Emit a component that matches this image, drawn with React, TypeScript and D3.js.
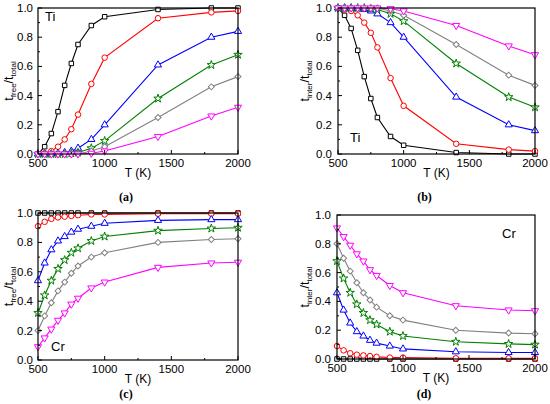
import React from "react";
import * as d3 from "d3";

const temps = [500, 550, 600, 650, 700, 750, 800, 900, 1000, 1400, 1800, 2000];

const seriesNames = ["s1", "s2", "s3", "s4", "s5", "s6"];
const colors = ["#000000", "#ff0000", "#0000ff", "#008000", "#808080", "#ff00ff"];
const markers = ["square", "circle", "triangle", "star", "diamond", "triangleDown"];

const tiFree = [
  [0.0, 0.05, 0.14, 0.29, 0.47, 0.62, 0.75, 0.88, 0.94, 0.99, 1.0, 1.0],
  [0.0, 0.005, 0.02, 0.05, 0.1, 0.17, 0.27, 0.48, 0.66, 0.93, 0.97, 0.98],
  [0.0, 0.0, 0.0, 0.005, 0.01, 0.02, 0.04, 0.1, 0.2, 0.61, 0.8, 0.84],
  [0.0, 0.0, 0.0, 0.0, 0.0, 0.005, 0.01, 0.04, 0.09, 0.38, 0.61, 0.68],
  [0.0, 0.0, 0.0, 0.0, 0.0, 0.0, 0.0, 0.02, 0.05, 0.25, 0.46, 0.53],
  [0.0, 0.0, 0.0, 0.0, 0.0, 0.0, 0.0, 0.005, 0.02, 0.12, 0.26, 0.32],
];

const tiInter = [
  [1.0, 0.95, 0.86, 0.71, 0.53, 0.38, 0.25, 0.12, 0.06, 0.01, 0.0, 0.0],
  [1.0, 0.99, 0.98, 0.95, 0.9, 0.83, 0.73, 0.52, 0.33, 0.07, 0.03, 0.02],
  [1.0, 1.0, 1.0, 0.995, 0.99, 0.98, 0.96, 0.9, 0.8, 0.39, 0.2, 0.16],
  [1.0, 1.0, 1.0, 1.0, 1.0, 0.995, 0.99, 0.96, 0.91, 0.62, 0.39, 0.32],
  [1.0, 1.0, 1.0, 1.0, 1.0, 1.0, 1.0, 0.98, 0.95, 0.75, 0.54, 0.47],
  [1.0, 1.0, 1.0, 1.0, 1.0, 1.0, 1.0, 0.995, 0.98, 0.88, 0.74, 0.68],
];

const crFree = [
  [1.0, 1.0, 1.0, 1.0, 1.0, 1.0, 1.0, 1.0, 1.0, 1.0, 1.0, 1.0],
  [0.91, 0.94, 0.96, 0.97, 0.975, 0.98, 0.985, 0.99, 0.99, 0.995, 0.995, 0.995],
  [0.54, 0.66, 0.75, 0.81, 0.84, 0.87, 0.89, 0.91, 0.93, 0.95, 0.955, 0.955],
  [0.32, 0.44, 0.54, 0.62, 0.68, 0.73, 0.76, 0.81, 0.84, 0.88, 0.895, 0.9],
  [0.2, 0.3, 0.39, 0.47, 0.53, 0.59, 0.64, 0.7, 0.73, 0.8, 0.82, 0.825],
  [0.09, 0.15, 0.21, 0.27, 0.32, 0.38, 0.42, 0.49, 0.53, 0.63, 0.66, 0.665],
];

const crInter = [
  [0.0, 0.0, 0.0, 0.0, 0.0, 0.0, 0.0, 0.0, 0.0, 0.0, 0.0, 0.0],
  [0.09, 0.06, 0.04, 0.03, 0.025, 0.02, 0.015, 0.01, 0.01, 0.005, 0.005, 0.005],
  [0.46, 0.34, 0.25, 0.19, 0.16, 0.13, 0.11, 0.09, 0.07, 0.05, 0.045, 0.045],
  [0.68, 0.56, 0.46, 0.38, 0.32, 0.27, 0.24, 0.19, 0.16, 0.12, 0.105, 0.1],
  [0.8, 0.7, 0.61, 0.53, 0.46, 0.41, 0.36, 0.3, 0.27, 0.2, 0.18, 0.175],
  [0.91, 0.85, 0.79, 0.73, 0.68, 0.62, 0.58, 0.51, 0.46, 0.37, 0.34, 0.335],
];

const xTicks = [500, 1000, 1500, 2000];
const xMinor = [750, 1250, 1750];
const yTicks = [0, 0.2, 0.4, 0.6, 0.8, 1.0];
const yMinor = [0.1, 0.3, 0.5, 0.7, 0.9];

type Panel = {
  data: number[][];
  sub: string;
  caption: string;
  elem: string;
  box: [number, number, number, number]; // left, top, right, bottom
  elemPos: [number, number];
  labelX: number;
  tickRight: number;
  captionY: number;
};

const panels: Panel[] = [
  { data: tiFree, sub: "free", caption: "(a)", elem: "Ti", box: [38, 8, 238, 154], elemPos: [45, 21], labelX: 13, tickRight: 33, captionY: 201 },
  { data: tiInter, sub: "inter", caption: "(b)", elem: "Ti", box: [338, 8, 535, 154], elemPos: [350, 142], labelX: 309, tickRight: 332, captionY: 201 },
  { data: crFree, sub: "free", caption: "(c)", elem: "Cr", box: [38, 213, 238, 360], elemPos: [51, 351], labelX: 13, tickRight: 33, captionY: 398 },
  { data: crInter, sub: "inter", caption: "(d)", elem: "Cr", box: [337, 215, 535, 359], elemPos: [502, 238], labelX: 309, tickRight: 331, captionY: 398 },
];

function markerPath(kind: string): { d: string; rot: number } {
  switch (kind) {
    case "square":
      return { d: d3.symbol(d3.symbolSquare, 20)()!, rot: 0 };
    case "circle":
      return { d: d3.symbol(d3.symbolCircle, 24)()!, rot: 0 };
    case "triangle":
      return { d: d3.symbol(d3.symbolTriangle, 22)()!, rot: 0 };
    case "triangleDown":
      return { d: d3.symbol(d3.symbolTriangle, 22)()!, rot: 180 };
    case "star":
      return { d: d3.symbol(d3.symbolStar, 22)()!, rot: 0 };
    case "diamond":
      return { d: d3.symbol(d3.symbolSquare, 18)()!, rot: 45 };
  }
  return { d: "", rot: 0 };
}

const font = "Arial, 'Liberation Sans', sans-serif";

function PanelView({ p }: { p: Panel }) {
  const [l, t, r, b] = p.box;
  const x = d3.scaleLinear().domain([500, 2000]).range([l, r]);
  const y = d3.scaleLinear().domain([0, 1]).range([b, t]);
  const line = d3
    .line<number>()
    .x((_, i) => x(temps[i]))
    .y((v) => y(v));
  const cx = (l + r) / 2;
  const cy = (t + b) / 2;
  return (
    <g>
      {p.data.map((vals, si) => (
        <path key={"l" + si} d={line(vals)!} fill="none" stroke={colors[si]} strokeWidth={1.1} />
      ))}
      {p.data.map((vals, si) => {
        const m = markerPath(markers[si]);
        return vals.map((v, i) => (
          <path
            key={seriesNames[si] + i}
            d={m.d}
            transform={`translate(${x(temps[i])},${y(v)}) rotate(${m.rot})`}
            fill="white"
            stroke={colors[si]}
            strokeWidth={1}
          />
        ));
      })}
      <rect x={l} y={t} width={r - l} height={b - t} fill="none" stroke="#000" strokeWidth={1.2} />
      {xTicks.map((v) => (
        <g key={"xt" + v}>
          <line x1={x(v)} x2={x(v)} y1={b} y2={b - 4} stroke="#000" />
          <text x={x(v)} y={b + 13} textAnchor="middle" fontSize={11.5} fontFamily={font}>
            {v}
          </text>
        </g>
      ))}
      {xMinor.map((v) => (
        <line key={"xm" + v} x1={x(v)} x2={x(v)} y1={b} y2={b - 2} stroke="#000" />
      ))}
      {yTicks.map((v) => (
        <g key={"yt" + v}>
          <line x1={l} x2={l + 4} y1={y(v)} y2={y(v)} stroke="#000" />
          <text x={p.tickRight} y={y(v) + 4} textAnchor="end" fontSize={11.5} fontFamily={font}>
            {v.toFixed(1)}
          </text>
        </g>
      ))}
      {yMinor.map((v) => (
        <line key={"ym" + v} x1={l} x2={l + 2} y1={y(v)} y2={y(v)} stroke="#000" />
      ))}
      <text x={cx} y={b + 23} textAnchor="middle" fontSize={12} fontFamily={font}>
        T (K)
      </text>
      <text
        transform={`translate(${p.labelX},${cy}) rotate(-90)`}
        textAnchor="middle"
        fontSize={12.5}
        fontFamily={font}
      >
        t<tspan fontSize={8} dy={3}>{p.sub}</tspan>
        <tspan dy={-3}>/t</tspan>
        <tspan fontSize={8} dy={3}>total</tspan>
      </text>
      <text x={p.elemPos[0]} y={p.elemPos[1]} fontSize={13} fontFamily={font}>
        {p.elem}
      </text>
      <text
        x={cx - 12}
        y={p.captionY}
        textAnchor="middle"
        fontSize={12}
        fontWeight="bold"
        fontFamily="'Liberation Serif', 'DejaVu Serif', serif"
      >
        {p.caption}
      </text>
    </g>
  );
}

export default function App() {
  return (
    <svg
      width={550}
      height={404}
      style={{ position: "absolute", left: 0, top: 0, background: "white" }}
    >
      <rect width={550} height={404} fill="white" />
      {panels.map((p, i) => (
        <PanelView key={i} p={p} />
      ))}
    </svg>
  );
}
